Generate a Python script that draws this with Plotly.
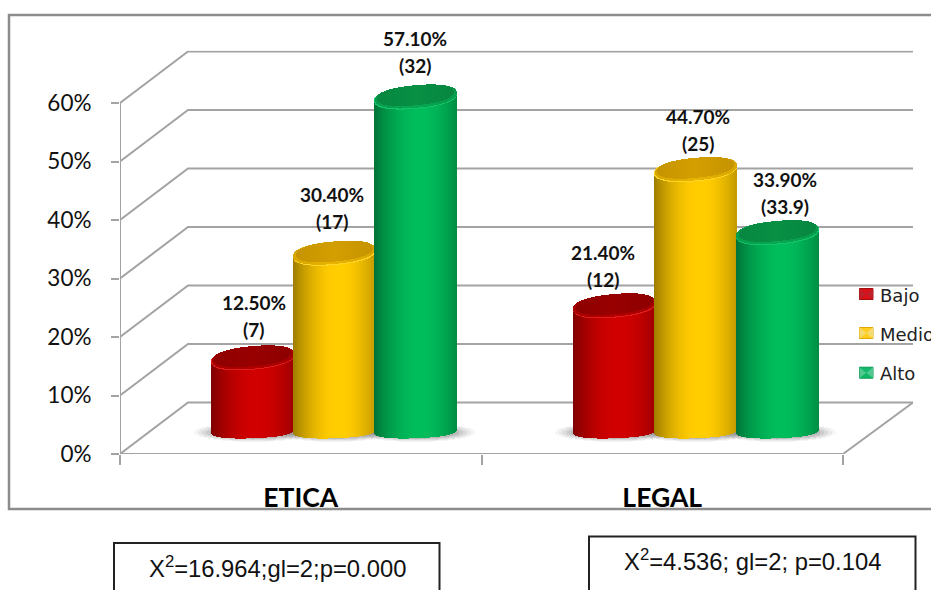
import math
import plotly.graph_objects as go

# ---- data ----
categories = ["ETICA", "LEGAL"]
series_names = ["Bajo", "Medio", "Alto"]
bajo = [12.5, 21.4]
medio = [30.4, 44.7]
alto = [57.1, 33.9]
pct_bajo = ["12.50%", "21.40%"]
pct_medio = ["30.40%", "44.70%"]
pct_alto = ["57.10%", "33.90%"]
n_bajo = ["(7)", "(12)"]
n_medio = ["(17)", "(25)"]
n_alto = ["(32)", "(33.9)"]
y_ticks = [0, 10, 20, 30, 40, 50, 60]
y_tick_text = ["0%", "10%", "20%", "30%", "40%", "50%", "60%"]
stats = ["X<sup>2</sup>=16.964;gl=2;p=0.000", "X<sup>2</sup>=4.536; gl=2; p=0.104"]

# ---- style / geometry ----
W, H = 931, 590
PX_L, PX_R, PX_B, PX_T = 120, 913, 454, 50.7
PX_PER_CAT = 361.5
PX_PER_PCT = 5.85
DEPTH_X = 68 / PX_PER_CAT
DEPTH_Y = 51.5 / PX_PER_PCT
XMAX = (PX_R - PX_L) / PX_PER_CAT
YMAX = (PX_B - PX_T) / PX_PER_PCT
BASE = 23 / PX_PER_PCT
GROUP_SHIFT = 33.5 / PX_PER_CAT
SPACING = 81.5 / PX_PER_CAT
CYL_PX = 82
TILT = 3.5
GRID = "#a3a3a3"
FRAME = "#8c8c8c"
LABEL_FONT = "Lato"

body_rgb = [(206, 0, 0), (255, 202, 0), (0, 186, 90)]
cap_rgb = [(150, 0, 0), (208, 156, 0), (8, 142, 68)]
mid_rgb = [(175, 0, 0), (228, 176, 0), (8, 165, 80)]
rim_rgb = [(225, 30, 30), (255, 214, 40), (20, 196, 106)]

# per-label nudges in pixels (dx, dy of first line above cap centre)
nudges = {
    (0, 0): (1, 55), (0, 1): (-2, 59), (0, 2): (-1, 58),
    (1, 0): (-11, 53), (1, 1): (2, 53), (1, 2): (8, 53),
}
LINE_GAP = 27


def shade(rgb, t):
    f = 0.62 + 0.4 * (1 - min(1, abs(t - 0.12) / 1.12) ** 1.9)
    return "rgb(%d,%d,%d)" % tuple(min(255, int(c * f)) for c in rgb)


def round_end(t, p=2.3):
    return (1 - abs(t) ** p) ** (1 / p)


def stripes(cx, half_px, step=1):
    n = int(2 * half_px / step)
    out = []
    for i in range(n):
        off = -half_px + (i + 0.5) * step
        out.append((cx + off / PX_PER_CAT, off / half_px))
    return out, step / PX_PER_CAT


def cyl_body(cx, top, rgb):
    st, w = stripes(cx, CYL_PX / 2)
    xs, bases, hs, cols = [], [], [], []
    for x, t in st:
        low = BASE + (1.5 * t - 7 * round_end(t)) / PX_PER_PCT
        up = top + TILT * t / PX_PER_PCT
        xs.append(x); bases.append(low); hs.append(up - low); cols.append(shade(rgb, t))
    return xs, bases, hs, cols, w


def cyl_cap(cx, top, rgb, shrink=0.0, lift=0.0, edge=False):
    st, w = stripes(cx, CYL_PX / 2 - shrink)
    xs, bases, hs, cols = [], [], [], []
    for x, t in st:
        r = (11.5 - shrink * 0.5) * round_end(t) / PX_PER_PCT
        c = top + (TILT * t + lift) / PX_PER_PCT
        xs.append(x); bases.append(c - r); hs.append(2 * r)
        k = 1.0 if edge else 0.95 + 0.07 * (1 - abs(t))
        cols.append("rgb(%d,%d,%d)" % tuple(min(255, int(v * k)) for v in rgb))
    return xs, bases, hs, cols, w


fig = go.Figure()


def add_bar(xs, bases, hs, cols, w, name):
    fig.add_trace(go.Bar(x=xs, y=hs, base=bases, width=[w] * len(xs), name=name,
                         marker=dict(color=cols, line=dict(width=0)),
                         showlegend=False, hoverinfo="skip"))


series_vals = [bajo, medio, alto]
series_pct = [pct_bajo, pct_medio, pct_alto]
series_n = [n_bajo, n_medio, n_alto]

# floor shadows
for layer, (extra, alpha) in enumerate([(18, 0.07), (14, 0.09), (10, 0.11), (6, 0.14), (2, 0.18)]):
    xs, bases, hs, cols = [], [], [], []
    for g in range(len(categories)):
        for s in range(len(series_names)):
            cx = g + 0.5 + GROUP_SHIFT + (s - 1) * SPACING
            st, w = stripes(cx, CYL_PX / 2 + extra, 2)
            for x, t in st:
                r = (6 + extra * 0.2) * math.sqrt(1 - t * t) / PX_PER_PCT
                xs.append(x); bases.append(BASE - 1 / PX_PER_PCT - r); hs.append(2 * r)
                cols.append("rgba(110,110,110,%.2f)" % alpha)
    add_bar(xs, bases, hs, cols, w, "sombra")

annotations = []
for g in range(len(categories)):
    for s, name in enumerate(series_names):
        cx = g + 0.5 + GROUP_SHIFT + (s - 1) * SPACING
        top = BASE + series_vals[s][g]
        add_bar(*cyl_body(cx, top, body_rgb[s]), name)
        add_bar(*cyl_cap(cx, top, rim_rgb[s], edge=True), name)
        add_bar(*cyl_cap(cx, top, mid_rgb[s], shrink=0.5, lift=0.8), name)
        add_bar(*cyl_cap(cx, top, cap_rgb[s], shrink=3.0, lift=2.0), name)
        dx, dy = nudges[(g, s)]
        for txt, shift in ((series_pct[s][g], dy), (series_n[s][g], dy - LINE_GAP)):
            annotations.append(dict(x=cx, y=top, xref="x", yref="y", text=txt, showarrow=False,
                                    xshift=dx, yshift=shift, xanchor="center", yanchor="middle",
                                    font=dict(family=LABEL_FONT, size=19, color="#111111", weight="bold")))

# walls and floor
shapes = []
for v in y_ticks:
    xs = [0, DEPTH_X, XMAX]
    ys = [v, v + DEPTH_Y, v + DEPTH_Y]
    shapes.append(dict(type="path", xref="x", yref="y", layer="below",
                       path="M %f %f L %f %f L %f %f" % (xs[0], ys[0], xs[1], ys[1], xs[2], ys[2]),
                       line=dict(color=GRID, width=2)))
shapes.append(dict(type="line", xref="x", yref="y", layer="below", x0=0, y0=0, x1=0, y1=y_ticks[-1],
                   line=dict(color=GRID, width=2)))
shapes.append(dict(type="path", xref="x", yref="y", layer="below",
                   path="M 0 0 L 2 0 L %f %f" % (XMAX, DEPTH_Y), line=dict(color=GRID, width=2)))


def px(x):
    return x / W


def py(y):
    return 1 - y / H


def rect(x0, y0, x1, y1, color, width, fill=None):
    d = dict(type="rect", xref="paper", yref="paper", x0=px(x0), x1=px(x1), y0=py(y0), y1=py(y1),
             line=dict(color=color, width=width))
    if fill:
        d["fillcolor"] = fill
    return d


# outer frame (right side runs past the page edge)
shapes.append(rect(9, 15, 945, 509, FRAME, 2.5))
# statistic boxes (bottom runs past the page edge)
shapes.append(rect(114, 543, 439.5, 610, "#222222", 2))
shapes.append(rect(589, 536.5, 915.5, 610, "#222222", 2))
annotations.append(dict(x=px(277), y=py(567), xref="paper", yref="paper", xanchor="center", yanchor="middle",
                        text=stats[0], showarrow=False,
                        font=dict(family="Liberation Sans", size=23.8, color="#111111")))
annotations.append(dict(x=px(752), y=py(560), xref="paper", yref="paper", xanchor="center", yanchor="middle",
                        text=stats[1], showarrow=False,
                        font=dict(family="Liberation Sans", size=23.8, color="#111111")))

# legend
sw_dark = ["#a01010", "#e0a800", "#0a9a50"]
sw_fill = ["#d81018", "#ffcc20", "#10b868"]
sw_side = ["#c02028", "#f5dc70", "#50c890"]
for name, yc, dk, fl, sd in zip(series_names, [294, 333, 372.7], sw_dark, sw_fill, sw_side):
    x0, x1, y0, y1 = 859.5, 873, yc - 5.5, yc + 5.5
    shapes.append(rect(x0, y0, x1, y1, dk, 1, fl))
    for a, b in ((x0, x0 + 6.7), (x1, x1 - 6.7)):
        shapes.append(dict(type="path", xref="paper", yref="paper", fillcolor=sd, line=dict(width=0),
                           path="M %f %f L %f %f L %f %f Z" % (px(a), py(y0), px(b), py(yc), px(a), py(y1))))
    annotations.append(dict(x=px(877.5), y=py(yc + 1), xref="paper", yref="paper", xanchor="left", yanchor="middle",
                            text=name, showarrow=False,
                            font=dict(family="DejaVu Sans", size=18, color="#222222")))

fig.update_layout(
    width=W, height=H, margin=dict(l=0, r=0, t=0, b=0, autoexpand=False),
    paper_bgcolor="white", plot_bgcolor="rgba(0,0,0,0)",
    barmode="overlay", bargap=0, showlegend=False,
    xaxis=dict(domain=[PX_L / W, PX_R / W], range=[0, XMAX], showgrid=False, zeroline=False, showline=False,
               tickmode="array", tickvals=[0.5, 1.5], ticktext=categories, ticks="", ticklabelstandoff=25,
               tickfont=dict(family=LABEL_FONT, size=26.5, color="#000000", weight="bold"),
               minor=dict(tickmode="array", tickvals=[0, 1, 2], ticks="outside", ticklen=10, tickwidth=2,
                          tickcolor=GRID, showgrid=False)),
    yaxis=dict(domain=[1 - PX_B / H, 1 - PX_T / H], range=[0, YMAX], showgrid=False, zeroline=False, showline=False,
               tickmode="array", tickvals=y_ticks, ticktext=y_tick_text, ticks="outside", ticklen=8, tickwidth=2,
               tickcolor=GRID, ticklabelstandoff=15,
               tickfont=dict(family=LABEL_FONT, size=22.5, color="#111111")),
    shapes=shapes, annotations=annotations,
)

fig.write_html("out.html", config=dict(displayModeBar=False),
               post_script="document.body.style.margin='0';document.body.style.overflow='hidden';")
